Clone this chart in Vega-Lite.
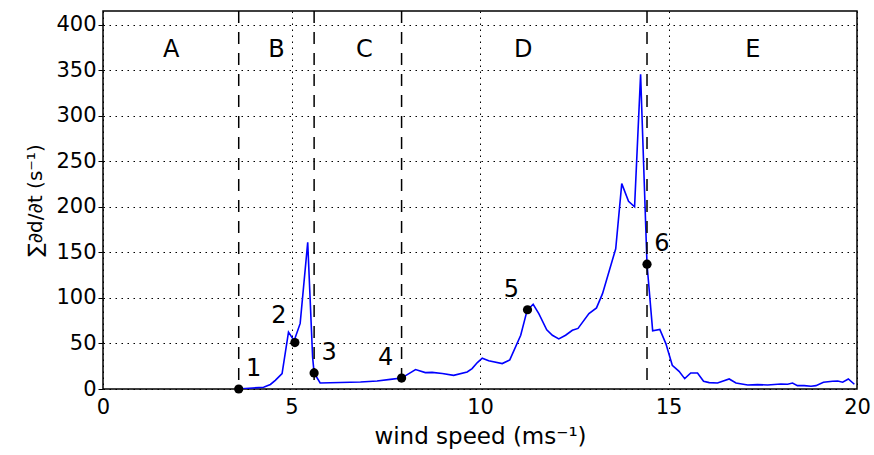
{
  "$schema": "https://vega.github.io/schema/vega-lite/v6.json",
  "width": 754,
  "height": 378,
  "autosize": {"type": "none"},
  "padding": {"left": 103, "top": 11, "right": 17, "bottom": 66},
  "background": "white",
  "config": {
    "font": "DejaVu Sans",
    "view": {"stroke": "black", "strokeWidth": 1.5},
    "axis": {
      "domain": false,
      "grid": true,
      "gridColor": "black",
      "gridOpacity": 1,
      "gridDash": [1.5, 4.5],
      "gridWidth": 1,
      "tickColor": "black",
      "labelColor": "black",
      "labelFont": "DejaVu Sans",
      "labelFontSize": 21,
      "titleFont": "DejaVu Sans",
      "titleFontSize": 23,
      "titleFontWeight": "normal",
      "titleColor": "black"
    }
  },
  "datasets": {
    "curve": [
      {"ws": 3.59, "d": 0}, {"ws": 4.26, "d": 2}, {"ws": 4.44, "d": 5}, {"ws": 4.57, "d": 9.5},
      {"ws": 4.75, "d": 17}, {"ws": 4.92, "d": 62.5}, {"ws": 5.07, "d": 53}, {"ws": 5.23, "d": 72},
      {"ws": 5.43, "d": 161}, {"ws": 5.56, "d": 35}, {"ws": 5.6, "d": 17.6}, {"ws": 5.76, "d": 6.6},
      {"ws": 6.83, "d": 7.7}, {"ws": 7.27, "d": 8.8}, {"ws": 7.62, "d": 10.6}, {"ws": 7.92, "d": 12},
      {"ws": 8.29, "d": 21.3}, {"ws": 8.55, "d": 18}, {"ws": 8.73, "d": 18.3}, {"ws": 9.0, "d": 17},
      {"ws": 9.3, "d": 15}, {"ws": 9.66, "d": 18.7}, {"ws": 9.79, "d": 22.4}, {"ws": 9.93, "d": 29},
      {"ws": 10.06, "d": 33.8}, {"ws": 10.23, "d": 31}, {"ws": 10.59, "d": 27.9}, {"ws": 10.79, "d": 32},
      {"ws": 11.08, "d": 59}, {"ws": 11.25, "d": 86.4}, {"ws": 11.41, "d": 93}, {"ws": 11.56, "d": 82.7},
      {"ws": 11.77, "d": 65}, {"ws": 11.92, "d": 59}, {"ws": 12.09, "d": 55}, {"ws": 12.27, "d": 59},
      {"ws": 12.45, "d": 64.4}, {"ws": 12.6, "d": 66.5}, {"ws": 12.89, "d": 82.8}, {"ws": 13.09, "d": 89},
      {"ws": 13.25, "d": 104.7}, {"ws": 13.6, "d": 154}, {"ws": 13.76, "d": 225.5}, {"ws": 13.94, "d": 206},
      {"ws": 14.1, "d": 200}, {"ws": 14.26, "d": 345.4}, {"ws": 14.43, "d": 137}, {"ws": 14.58, "d": 64},
      {"ws": 14.77, "d": 65.5}, {"ws": 14.93, "d": 49.8}, {"ws": 15.1, "d": 26}, {"ws": 15.28, "d": 19.4},
      {"ws": 15.43, "d": 11.4}, {"ws": 15.59, "d": 17.6}, {"ws": 15.77, "d": 17.6}, {"ws": 15.93, "d": 8.5},
      {"ws": 16.08, "d": 7}, {"ws": 16.3, "d": 6.6}, {"ws": 16.61, "d": 11}, {"ws": 16.79, "d": 6.6},
      {"ws": 17.1, "d": 4.4}, {"ws": 17.36, "d": 4.8}, {"ws": 17.63, "d": 4.4}, {"ws": 17.98, "d": 5.5},
      {"ws": 18.16, "d": 5.2}, {"ws": 18.29, "d": 6.6}, {"ws": 18.42, "d": 3.7}, {"ws": 18.6, "d": 3.7},
      {"ws": 18.78, "d": 3}, {"ws": 18.91, "d": 3.7}, {"ws": 19.11, "d": 7.4}, {"ws": 19.35, "d": 8.5},
      {"ws": 19.49, "d": 8.8}, {"ws": 19.62, "d": 7.4}, {"ws": 19.77, "d": 11}, {"ws": 19.93, "d": 5.2}
    ],
    "events": [
      {"label": "1", "ws": 3.6, "d": 0},
      {"label": "2", "ws": 5.09, "d": 51},
      {"label": "3", "ws": 5.6, "d": 17.6},
      {"label": "4", "ws": 7.92, "d": 12},
      {"label": "5", "ws": 11.26, "d": 87},
      {"label": "6", "ws": 14.43, "d": 137}
    ],
    "boundaries": [
      {"ws": 3.6}, {"ws": 5.6}, {"ws": 7.92}, {"ws": 14.43}
    ],
    "regions": [
      {"region": "A", "ws": 1.81},
      {"region": "B", "ws": 4.6},
      {"region": "C", "ws": 6.93},
      {"region": "D", "ws": 11.15},
      {"region": "E", "ws": 17.24}
    ]
  },
  "layer": [
    {
      "data": {"name": "curve"},
      "mark": {"type": "line", "color": "#0000ff", "strokeWidth": 1.6, "clip": true},
      "encoding": {
        "x": {
          "field": "ws", "type": "quantitative",
          "scale": {"domain": [0, 20], "nice": false, "zero": false},
          "axis": {
            "title": "wind speed (ms⁻¹)",
            "values": [0, 5, 10, 15, 20],
            "format": "d",
            "ticks": false,
            "labelPadding": 7,
            "labelFlush": false,
            "titlePadding": 8
          }
        },
        "y": {
          "field": "d", "type": "quantitative",
          "scale": {"domain": [0, 415], "nice": false},
          "axis": {
            "title": "∑∂d/∂t  (s⁻¹)",
            "titleFontSize": 20,
            "values": [0, 50, 100, 150, 200, 250, 300, 350, 400],
            "format": "d",
            "ticks": true,
            "tickSize": 5,
            "labelPadding": 2,
            "labelFlush": false,
            "titlePadding": 10
          }
        }
      }
    },
    {
      "data": {"name": "boundaries"},
      "mark": {"type": "rule", "color": "black", "strokeWidth": 1.5, "strokeDash": [12, 9]},
      "encoding": {
        "x": {"field": "ws", "type": "quantitative"}
      }
    },
    {
      "data": {"name": "events"},
      "mark": {"type": "point", "filled": true, "color": "black", "opacity": 1, "size": 85, "clip": false},
      "encoding": {
        "x": {"field": "ws", "type": "quantitative"},
        "y": {"field": "d", "type": "quantitative"}
      }
    },
    {
      "data": {"name": "events"},
      "transform": [{"filter": "indexof(['1','3','6'], datum.label) >= 0"}],
      "mark": {"type": "text", "fontSize": 24, "color": "black", "dx": 15, "dy": -20, "align": "center", "baseline": "middle"},
      "encoding": {
        "x": {"field": "ws", "type": "quantitative"},
        "y": {"field": "d", "type": "quantitative"},
        "text": {"field": "label"}
      }
    },
    {
      "data": {"name": "events"},
      "transform": [{"filter": "indexof(['4','5'], datum.label) >= 0"}],
      "mark": {"type": "text", "fontSize": 24, "color": "black", "dx": -16, "dy": -20, "align": "center", "baseline": "middle"},
      "encoding": {
        "x": {"field": "ws", "type": "quantitative"},
        "y": {"field": "d", "type": "quantitative"},
        "text": {"field": "label"}
      }
    },
    {
      "data": {"name": "events"},
      "transform": [{"filter": "datum.label === '2'"}],
      "mark": {"type": "text", "fontSize": 24, "color": "black", "dx": -16, "dy": -27, "align": "center", "baseline": "middle"},
      "encoding": {
        "x": {"field": "ws", "type": "quantitative"},
        "y": {"field": "d", "type": "quantitative"},
        "text": {"field": "label"}
      }
    },
    {
      "data": {"name": "regions"},
      "mark": {"type": "text", "fontSize": 24, "color": "black", "align": "center", "baseline": "middle"},
      "encoding": {
        "x": {"field": "ws", "type": "quantitative"},
        "y": {"datum": 372, "type": "quantitative"},
        "text": {"field": "region"}
      }
    }
  ]
}
